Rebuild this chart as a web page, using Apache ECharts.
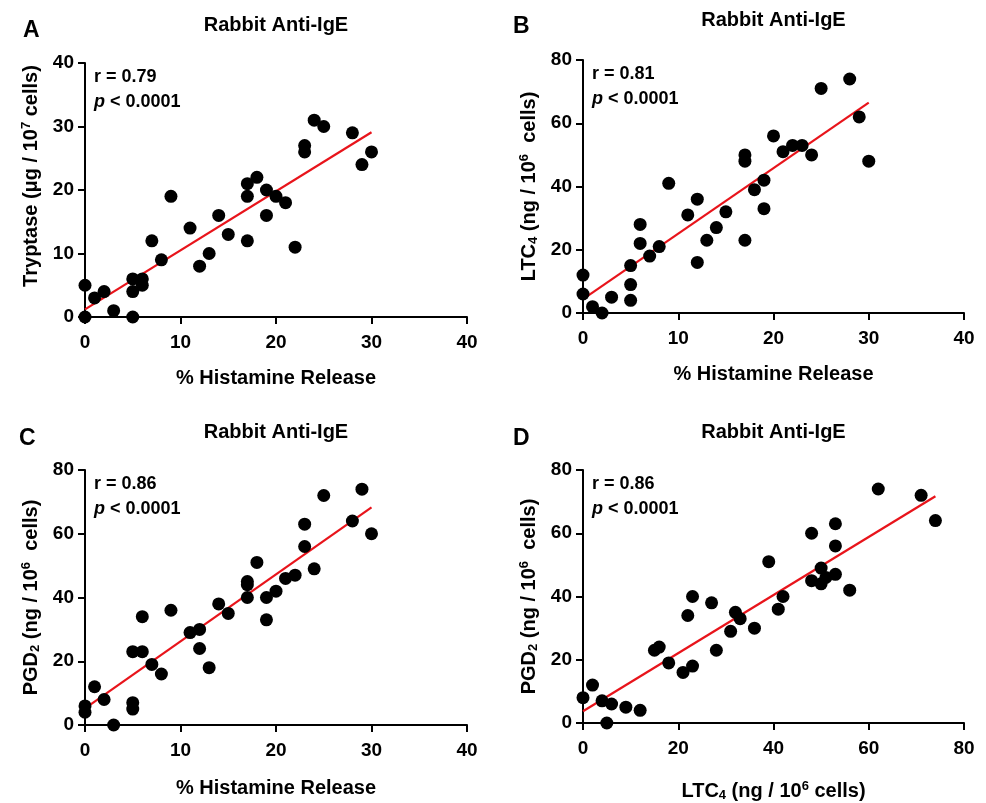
<!DOCTYPE html>
<html>
<head>
<meta charset="utf-8">
<script src="https://cdn.jsdelivr.net/npm/echarts@6/dist/echarts.min.js"></script>
<style>
html,body{margin:0;padding:0;background:#fff;}
#main{width:986px;height:803px;}
</style>
</head>
<body>
<div id="main"></div>
<script>
// panel A: % histamine release vs tryptase
var histA = [0,0,1,2,3,5,5,5,6,6,7,8,9,11,12,13,14,15,17,17,17,18,19,19,20,21,22,23,23,24,25,28,29,30];
var tryptA = [5,0,3,4,1,6,4,0,6,5,12,9,19,14,8,10,16,13,12,19,21,22,20,16,19,18,11,26,27,31,30,29,24,26];
var fitA = [[0,1.2],[30,29.1]];

// panel B: % histamine release vs LTC4
var histB = [0,0,1,2,3,5,5,5,6,6,7,8,9,11,12,12,13,14,15,17,17,17,18,19,19,20,21,22,23,24,25,28,29,30];
var ltcB = [12,6,2,0,5,15,9,4,28,22,18,21,41,31,36,16,23,27,32,50,48,23,39,42,33,56,51,53,53,50,71,74,62,48];
var fitB = [[0,4.4],[30,66.5]];

// panel C: % histamine release vs PGD2
var histC = [0,0,1,2,3,5,5,5,6,6,7,8,9,11,12,12,13,14,15,17,17,17,18,19,19,20,21,22,23,23,24,25,28,29,30];
var pgdC = [6,4,12,8,0,23,7,5,23,34,19,16,36,29,30,24,18,38,35,40,44,45,51,40,33,42,46,47,56,63,49,72,64,74,60];
var fitC = [[0,5.2],[30,68.3]];

// panel D: LTC4 vs PGD2
var ltcD = [0,2,4,5,6,9,12,15,16,18,21,22,23,23,27,28,31,32,33,36,39,41,42,48,48,50,50,51,53,53,53,56,62,71,74];
var pgdD = [8,12,7,0,6,5,4,23,24,19,16,34,18,40,38,23,29,35,33,30,51,36,40,60,45,49,44,46,63,56,47,42,74,72,64];
var fitD = [[0,3.7],[74,71.7]];

var panelLetters = ['A','B','C','D'];
var panelTitle = 'Rabbit Anti-IgE';
var rValues = ['0.79','0.81','0.86','0.86'];
var pText = '0.0001';

function zip(xs, ys){ return xs.map(function(x,i){ return [x, ys[i]]; }); }

var FONT = 'Arial, "Liberation Sans", Helvetica, sans-serif';
var grids = [
  {left:85, top:63, width:382, height:254},
  {left:583, top:60, width:381, height:253},
  {left:85, top:470, width:382, height:255},
  {left:583, top:470, width:381, height:254}
];
var titleTops = [15, 10, 422, 422];
var letterPos = [[23,19],[513,15],[19,427],[513,427]];
var xNameGaps = [51, 51, 53, 57];
var yNamePad = [[0,0,0,28],0,0,0];
var xRanges = [[0,40,10],[0,40,10],[0,40,10],[0,80,20]];
var yRanges = [[0,40,10],[0,80,20],[0,80,20],[0,80,20]];

var supRich = {
  n:{fontFamily:FONT,fontWeight:'bold',fontSize:20,color:'#000'},
  sup:{fontFamily:FONT,fontWeight:'bold',fontSize:13,color:'#000',verticalAlign:'top',padding:[0,0,9,0]},
  sub:{fontFamily:FONT,fontWeight:'bold',fontSize:13,color:'#000',verticalAlign:'bottom',padding:[9,0,0,0]}
};
var xNames = ['{n|% Histamine Release}','{n|% Histamine Release}','{n|% Histamine Release}','{n|LTC}{sub|4}{n| (ng / 10}{sup|6}{n| cells)}'];
var yNames = ['{n|Tryptase (μg / 10}{sup|7}{n| cells)}','{n|LTC}{sub|4}{n| (ng / 10}{sup|6}{n|  cells)}','{n|PGD}{sub|2}{n| (ng / 10}{sup|6}{n|  cells)}','{n|PGD}{sub|2}{n| (ng / 10}{sup|6}{n|  cells)}'];

var scatterData = [zip(histA,tryptA), zip(histB,ltcB), zip(histC,pgdC), zip(ltcD,pgdD)];
var fits = [fitA, fitB, fitC, fitD];

var axisLineStyle = {color:'#000', width:2};
var xAxes = [], yAxes = [], series = [], titles = [];
grids.forEach(function(g,i){
  xAxes.push({
    gridIndex:i, type:'value', min:xRanges[i][0], max:xRanges[i][1], interval:xRanges[i][2],
    axisLine:{show:true, onZero:false, lineStyle:axisLineStyle},
    axisTick:{show:true, length:7, lineStyle:axisLineStyle},
    splitLine:{show:false},
    axisLabel:{fontFamily:FONT, fontWeight:'bold', fontSize:19, color:'#000', margin:16},
    name:xNames[i], nameLocation:'middle', nameGap:xNameGaps[i],
    nameTextStyle:{rich:supRich}
  });
  yAxes.push({
    gridIndex:i, type:'value', min:yRanges[i][0], max:yRanges[i][1], interval:yRanges[i][2],
    axisLine:{show:true, onZero:false, lineStyle:axisLineStyle},
    axisTick:{show:true, length:7, lineStyle:axisLineStyle},
    splitLine:{show:false},
    axisLabel:{fontFamily:FONT, fontWeight:'bold', fontSize:19, color:'#000', margin:11},
    name:yNames[i], nameLocation:'middle', nameGap:43, nameRotate:90,
    nameTextStyle:{rich:supRich, padding:yNamePad[i]}
  });
  series.push({
    type:'line', xAxisIndex:i, yAxisIndex:i, data:fits[i], symbol:'none',
    lineStyle:{color:'#e8141b', width:2.2}, silent:true, z:2
  });
  series.push({
    type:'scatter', xAxisIndex:i, yAxisIndex:i, data:scatterData[i], clip:false,
    symbolSize:13, itemStyle:{color:'#000', opacity:1}, z:3
  });
  var cx = g.left + g.width/2;
  titles.push({
    text:panelTitle, left:cx, top:titleTops[i], textAlign:'center', padding:0,
    textStyle:{fontFamily:FONT, fontWeight:'bold', fontSize:20, color:'#000'}
  });
  titles.push({
    text:panelLetters[i], left:letterPos[i][0], top:letterPos[i][1], padding:0,
    textStyle:{fontFamily:FONT, fontWeight:'bold', fontSize:23, color:'#000'}
  });
  titles.push({
    text:'r = ' + rValues[i] + '\n{it|p} < ' + pText,
    left:g.left+9, top:g.top+2, padding:0,
    textStyle:{fontFamily:FONT, fontWeight:'bold', fontSize:18, color:'#000', lineHeight:25,
      rich:{it:{fontFamily:FONT, fontWeight:'bold', fontStyle:'italic', fontSize:18, color:'#000', lineHeight:25}}}
  });
});

var chart = echarts.init(document.getElementById('main'));
chart.setOption({
  animation:false,
  backgroundColor:'#fff',
  title:titles,
  grid:grids,
  xAxis:xAxes,
  yAxis:yAxes,
  series:series
});
</script>
</body>
</html>
